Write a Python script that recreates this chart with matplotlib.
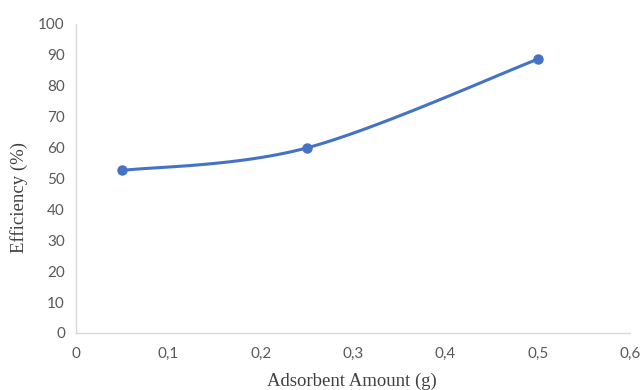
import numpy as np
import matplotlib
matplotlib.use('Agg')
import matplotlib.pyplot as plt

# data
amount = [0.05, 0.25, 0.5]
efficiency = [52.6, 59.9, 88.6]
xticks = [0, 0.1, 0.2, 0.3, 0.4, 0.5, 0.6]
yticks = list(range(0, 101, 10))

XMIN, XMAX, YMIN, YMAX = 0, 0.6, 0, 100


def excel_smooth(xs, ys, n=60):
    # excel-like smoothed line: bezier segments, computed in pixel-ish space
    px = (np.array(xs) - XMIN) / (XMAX - XMIN) * 554
    py = (np.array(ys) - YMIN) / (YMAX - YMIN) * 309
    pts = np.column_stack([px, py])
    out = []
    m = len(pts)
    for i in range(m - 1):
        p0 = pts[i - 1] if i > 0 else pts[i]
        p1 = pts[i]
        p2 = pts[i + 1]
        p3 = pts[i + 2] if i + 2 < m else pts[i + 1]
        c1 = p1 + (p2 - p0) / 6
        c2 = p2 - (p3 - p1) / 6
        t = np.linspace(0, 1, n)[:, None]
        seg = ((1 - t) ** 3 * p1 + 3 * (1 - t) ** 2 * t * c1
               + 3 * (1 - t) * t ** 2 * c2 + t ** 3 * p2)
        out.append(seg)
    out = np.vstack(out)
    sx = out[:, 0] / 554 * (XMAX - XMIN) + XMIN
    sy = out[:, 1] / 309 * (YMAX - YMIN) + YMIN
    return sx, sy


fig = plt.figure(figsize=(6.43, 3.90), dpi=100)
ax = fig.add_axes([0.1182, 0.1462, 0.8616, 0.7923])

sx, sy = excel_smooth(amount, efficiency)
ax.plot(sx, sy, color='#4472C4', lw=2.2, solid_capstyle='round', zorder=3)
ax.plot(amount, efficiency, 'o', color='#4472C4', ms=6.5, zorder=4)

ax.set_xlim(XMIN, XMAX)
ax.set_ylim(YMIN, YMAX)
ax.set_xticks(xticks)
ax.set_yticks(yticks)
ax.set_xticklabels([('%g' % v).replace('.', ',') for v in xticks])
ax.set_yticklabels([str(v) for v in yticks])

for s in ['top', 'right']:
    ax.spines[s].set_visible(False)
for s in ['left', 'bottom']:
    ax.spines[s].set_color('#D9D9D9')
    ax.spines[s].set_linewidth(1.0)

ax.tick_params(length=0, labelsize=11, labelcolor='#595959')
ax.tick_params(axis='x', pad=10)
ax.tick_params(axis='y', pad=8)
for lab in ax.get_xticklabels() + ax.get_yticklabels():
    lab.set_family('Lato')

ax.set_xlabel('Adsorbent Amount (g)', family='Liberation Serif', fontsize=13.5,
              color='#404040')
ax.set_ylabel('Efficiency (%)', family='Liberation Serif', fontsize=13.5,
              color='#404040')
ax.xaxis.set_label_coords(0.498, -0.128)
ax.yaxis.set_label_coords(-0.086, 0.44)

fig.savefig('out.png', dpi=100)
